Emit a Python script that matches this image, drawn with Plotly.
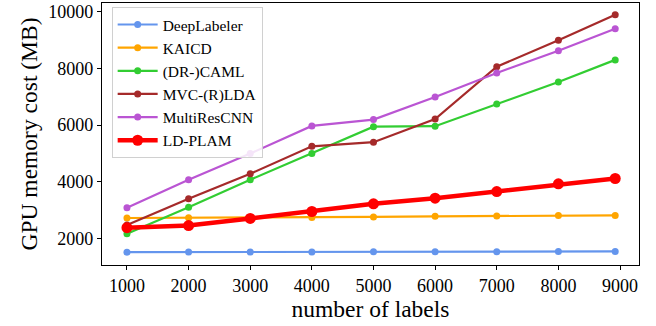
import plotly.graph_objects as go

labels = [1000, 2000, 3000, 4000, 5000, 6000, 7000, 8000, 8922]

deeplabeler = [1515, 1517, 1517, 1520, 1528, 1530, 1532, 1535, 1540]
kaicd = [2720, 2730, 2720, 2740, 2760, 2780, 2790, 2805, 2810]
dr_caml = [2165, 3100, 4070, 4995, 5945, 5960, 6745, 7520, 8300]
mvc_rlda = [2470, 3400, 4280, 5250, 5395, 6215, 8060, 8990, 9895]
multirescnn = [3080, 4070, 4995, 5970, 6195, 6990, 7840, 8625, 9400]
ld_plam = [2380, 2455, 2705, 2950, 3220, 3420, 3655, 3925, 4115]

names = ["DeepLabeler", "KAICD", "(DR-)CAML", "MVC-(R)LDA", "MultiResCNN", "LD-PLAM"]
series = [deeplabeler, kaicd, dr_caml, mvc_rlda, multirescnn, ld_plam]
colors = ["#6495ED", "#FFA500", "#32CD32", "#A52A2A", "#BA55D3", "#FF0000"]
widths = [2.2, 2.2, 2.2, 2.2, 2.2, 4.5]
msizes = [7, 7, 7, 7, 7, 11]

x_ticks = [1000, 2000, 3000, 4000, 5000, 6000, 7000, 8000, 9000]
y_ticks = [2000, 4000, 6000, 8000, 10000]

fig = go.Figure()
for name, ys, c, w, ms in zip(names, series, colors, widths, msizes):
    fig.add_trace(go.Scatter(
        x=labels, y=ys, name=name, mode="lines+markers",
        line=dict(color=c, width=w),
        marker=dict(color=c, size=ms),
    ))

font_family = "Liberation Serif"
fig.update_layout(
    width=656, height=326,
    margin=dict(l=102, r=17, t=3, b=61),
    plot_bgcolor="white", paper_bgcolor="white",
    font=dict(family=font_family, color="black", size=15),
    showlegend=True,
    legend=dict(
        x=0.018, y=0.985, xanchor="left", yanchor="top",
        bgcolor="rgba(255,255,255,0.85)",
        bordercolor="#d0d0d0", borderwidth=1,
        font=dict(family=font_family, size=15.5, color="black"),
        itemwidth=40,
        tracegroupgap=0,
    ),
    xaxis=dict(
        range=[595, 9308],
        tickmode="array", tickvals=x_ticks, ticktext=[str(v) for v in x_ticks],
        showgrid=False, zeroline=False,
        showline=True, linecolor="black", linewidth=1.2, mirror=True,
        ticks="outside", ticklen=4, tickcolor="black",
        tickfont=dict(family=font_family, size=18),
        title=dict(text="number of labels", font=dict(family=font_family, size=23.5), standoff=0),
    ),
    yaxis=dict(
        range=[1062, 10308],
        tickmode="array", tickvals=y_ticks, ticktext=[str(v) for v in y_ticks],
        showgrid=False, zeroline=False,
        showline=True, linecolor="black", linewidth=1.2, mirror=True,
        ticks="outside", ticklen=4, tickcolor="black",
        tickfont=dict(family=font_family, size=18),
        title=dict(text="GPU memory cost (MB)", font=dict(family=font_family, size=23.5), standoff=4),
    ),
)

fig.write_html("out.html")
